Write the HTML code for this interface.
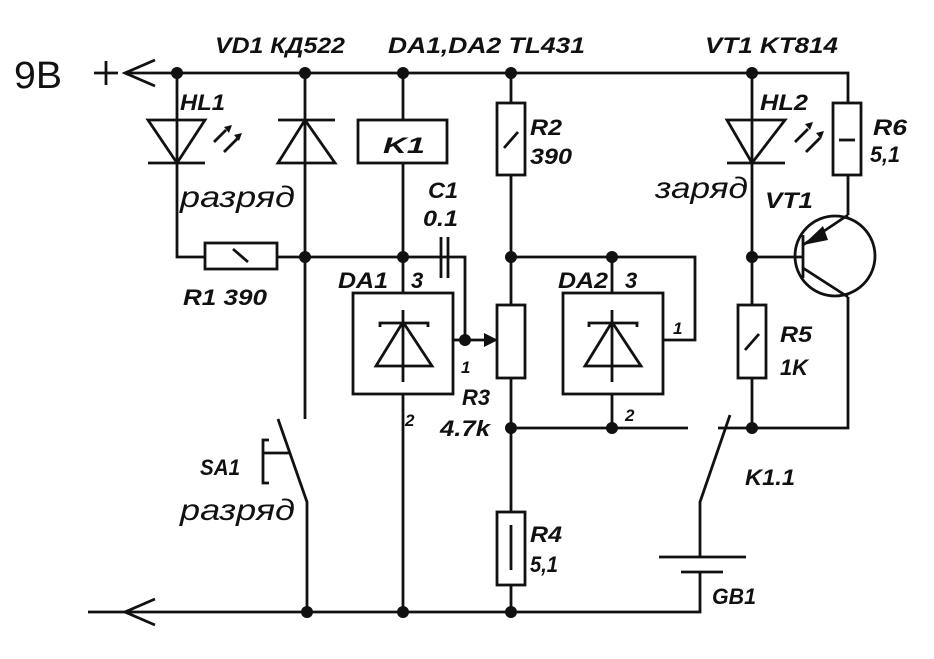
<!DOCTYPE html>
<html><head><meta charset="utf-8"><style>
body{margin:0;background:#fff}
svg text{font-family:"Liberation Sans",sans-serif;font-weight:bold;font-style:italic;font-size:22px;fill:#111}
</style></head><body>
<svg width="934" height="654" viewBox="0 0 934 654" xmlns="http://www.w3.org/2000/svg">
<rect width="934" height="654" fill="#fff"/>
<g stroke="#111" stroke-width="2.8" fill="none">
<path d="M125 73H848V103"/>
<path d="M155 60L125 73L155 86"/>
<path d="M94 73H118M106 61V85"/>
<path d="M88 612H700V572"/>
<path d="M155 599L125 612L155 625"/>
<!-- HL1 -->
<path d="M177 73V257H205"/>
<path d="M148 120H205L177 163Z"/>
<path d="M148 163H205"/>
<path d="M214 142L226 130M224 152L238 138"/>
<!-- R1 -->
<rect x="205" y="243" width="72" height="26"/>
<path d="M233 249L248 262"/>
<path d="M277 257H465V340"/>
<path d="M441 237V278M448 237V278"/>
<!-- VD1 -->
<path d="M305 73V419"/>
<path d="M278 120H335M305 120L278 163H335Z"/>
<!-- SA1 -->
<path d="M278 419L307 502V612"/>
<path d="M269 440H263V483H269M263 453H290"/>
<!-- K1 -->
<path d="M403 73V120"/>
<rect x="358" y="120" width="89" height="43"/>
<path d="M403 163V293"/>
<!-- DA1 -->
<rect x="353" y="293" width="100" height="101"/>
<path d="M403 310V382M376 366H432L403 322ZM380 327V323H428V327"/>
<path d="M403 394V612"/>
<path d="M453 340H465"/>
<path d="M465 340H490"/>
<rect x="497" y="305" width="28" height="73"/>
<path d="M511 73V103M511 175V305M511 378V512M511 585V612"/>
<rect x="497" y="103" width="28" height="72"/>
<path d="M504 148L518 132"/>
<rect x="497" y="512" width="28" height="73"/>
<path d="M511 525V570"/>
<!-- DA2 -->
<path d="M511 257H695V340H663"/>
<path d="M612 257V293"/>
<rect x="563" y="293" width="100" height="101"/>
<path d="M612 310V382M585 366H641L612 322ZM589 327V323H637V327"/>
<path d="M612 394V428"/>
<path d="M511 428H688M718 428H848V297"/>
<path d="M730 415L700 502V557"/>
<path d="M659 557H746M681 572H723"/>
<!-- HL2 -->
<path d="M752 73V305M752 378V428"/>
<path d="M727 120H785L752 163Z"/>
<path d="M727 163H785"/>
<path d="M795 142L808 129M806 152L820 138"/>
<rect x="738" y="305" width="28" height="73"/>
<path d="M745 350L759 334"/>
<rect x="833" y="103" width="28" height="72"/>
<path d="M839 140H855"/>
<path d="M848 175V215"/>
<circle cx="835" cy="256" r="40"/>
<path d="M752 257H803M803 235V278"/>
<path d="M803 245L848 215M803 268L848 297"/>
</g>
<g fill="#111">
<path d="M803 245L823 226L828 240Z"/>
<path d="M484 333L498 340L484 347Z"/>
<path d="M224 127L232 125L229 133Z"/><path d="M234 135L242 133L239 141Z"/>
<path d="M805 124L813 122L810 130Z"/><path d="M816 133L824 131L821 139Z"/>
<circle cx="177" cy="73" r="6"/><circle cx="305" cy="73" r="6"/><circle cx="403" cy="73" r="6"/><circle cx="511" cy="73" r="6"/><circle cx="752" cy="73" r="6"/>
<circle cx="305" cy="257" r="6"/><circle cx="403" cy="257" r="6"/><circle cx="511" cy="257" r="6"/><circle cx="612" cy="257" r="6"/><circle cx="752" cy="257" r="6"/>
<circle cx="465" cy="340" r="6"/>
<circle cx="511" cy="428" r="6"/><circle cx="612" cy="428" r="6"/><circle cx="752" cy="428" r="6"/>
<circle cx="307" cy="612" r="6"/><circle cx="403" cy="612" r="6"/><circle cx="511" cy="612" r="6"/>
</g>
<text x="14" y="88" textLength="48" lengthAdjust="spacingAndGlyphs" style="font-style:normal;font-weight:normal;font-size:38px">9В</text>
<text x="215" y="53" textLength="130" lengthAdjust="spacingAndGlyphs">VD1 КД522</text>
<text x="388" y="53" textLength="197" lengthAdjust="spacingAndGlyphs">DA1,DA2 TL431</text>
<text x="705" y="53" textLength="133" lengthAdjust="spacingAndGlyphs">VT1 KT814</text>
<text x="180" y="110" textLength="45" lengthAdjust="spacingAndGlyphs">HL1</text>
<text x="180" y="207" textLength="115" lengthAdjust="spacingAndGlyphs" style="font-size:30px;font-weight:normal">разряд</text>
<text x="383" y="153" textLength="42" lengthAdjust="spacingAndGlyphs">K1</text>
<text x="428" y="198" textLength="30" lengthAdjust="spacingAndGlyphs">C1</text>
<text x="423" y="226" textLength="35" lengthAdjust="spacingAndGlyphs">0.1</text>
<text x="183" y="305" textLength="84" lengthAdjust="spacingAndGlyphs">R1 390</text>
<text x="338" y="288" textLength="50" lengthAdjust="spacingAndGlyphs">DA1</text>
<text x="411" y="288">3</text>
<text x="461" y="373" style="font-size:17px">1</text>
<text x="405" y="426" style="font-size:17px">2</text>
<text x="462" y="405" textLength="28" lengthAdjust="spacingAndGlyphs">R3</text>
<text x="440" y="436" textLength="50" lengthAdjust="spacingAndGlyphs">4.7k</text>
<text x="530" y="135" textLength="32" lengthAdjust="spacingAndGlyphs">R2</text>
<text x="530" y="164" textLength="42" lengthAdjust="spacingAndGlyphs">390</text>
<text x="558" y="288" textLength="50" lengthAdjust="spacingAndGlyphs">DA2</text>
<text x="625" y="288">3</text>
<text x="673" y="334" style="font-size:17px">1</text>
<text x="625" y="421" style="font-size:17px">2</text>
<text x="530" y="542" textLength="32" lengthAdjust="spacingAndGlyphs">R4</text>
<text x="530" y="572" textLength="28" lengthAdjust="spacingAndGlyphs">5,1</text>
<text x="760" y="110" textLength="48" lengthAdjust="spacingAndGlyphs">HL2</text>
<text x="655" y="198" textLength="93" lengthAdjust="spacingAndGlyphs" style="font-size:30px;font-weight:normal">заряд</text>
<text x="765" y="208" textLength="48" lengthAdjust="spacingAndGlyphs">VT1</text>
<text x="873" y="135" textLength="34" lengthAdjust="spacingAndGlyphs">R6</text>
<text x="870" y="162" textLength="30" lengthAdjust="spacingAndGlyphs">5,1</text>
<text x="780" y="342" textLength="32" lengthAdjust="spacingAndGlyphs">R5</text>
<text x="780" y="375" textLength="28" lengthAdjust="spacingAndGlyphs">1K</text>
<text x="745" y="485" textLength="50" lengthAdjust="spacingAndGlyphs">K1.1</text>
<text x="712" y="604" textLength="44" lengthAdjust="spacingAndGlyphs">GB1</text>
<text x="200" y="475" textLength="40" lengthAdjust="spacingAndGlyphs">SA1</text>
<text x="180" y="520" textLength="115" lengthAdjust="spacingAndGlyphs" style="font-size:30px;font-weight:normal">разряд</text>
</svg>
</body></html>
